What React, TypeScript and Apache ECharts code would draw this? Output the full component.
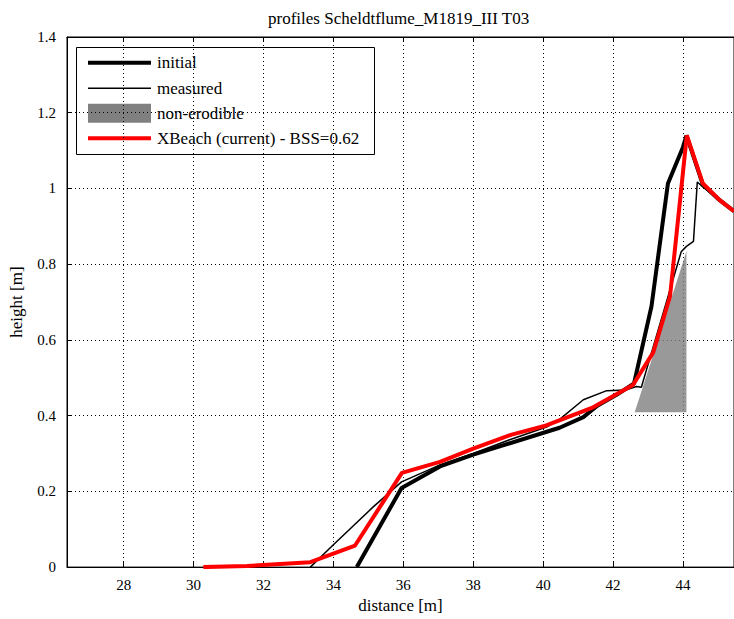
import React, { useEffect, useRef } from "react";
import * as echarts from "echarts";

const titleText = "profiles Scheldtflume_M1819_III T03";
const xName = "distance [m]";
const yName = "height [m]";
const xMin = 26.38;
const xMax = 45.46;
const xTickValues = [28, 30, 32, 34, 36, 38, 40, 42, 44];

const initialX = [34.67, 35.95, 37.05, 38.0, 40.47, 41.15, 41.55, 42.1, 42.6, 43.1, 43.57, 44.0, 44.1, 44.57, 45.05, 45.46];
const initialY = [0, 0.209, 0.266, 0.297, 0.368, 0.396, 0.426, 0.455, 0.485, 0.689, 1.013, 1.109, 1.14, 1.01, 0.969, 0.94];

const measuredX = [33.34, 34.0, 35.14, 35.95, 37.05, 38.0, 39.0, 40.1, 40.48, 41.15, 41.82, 42.38, 42.67, 42.81, 43.95, 44.1, 44.3, 44.41, 44.57, 45.05, 45.46];
const measuredY = [0, 0.059, 0.159, 0.225, 0.27, 0.3, 0.335, 0.37, 0.391, 0.442, 0.466, 0.468, 0.477, 0.475, 0.833, 0.847, 0.86, 1.017, 1.004, 0.97, 0.94];

const xbeachX = [30.28, 31.53, 33.34, 34.62, 35.96, 37.05, 38.0, 39.1, 40.09, 41.43, 42.57, 43.15, 43.63, 44.11, 44.57, 45.05, 45.46];
const xbeachY = [0, 0.003, 0.013, 0.057, 0.249, 0.278, 0.313, 0.35, 0.374, 0.422, 0.481, 0.567, 0.715, 1.14, 1.013, 0.969, 0.94];

const nonErodibleX = [42.62, 44.1, 44.1];
const nonErodibleY = [0.409, 0.834, 0.409];

const legendLabels = ["initial", "measured", "non-erodible", "XBeach (current) - BSS=0.62"];

const FONT = "'Liberation Serif', 'Times New Roman', serif";

const pairs = (xs: number[], ys: number[]) => xs.map((x, i) => [x, ys[i]]);

export default function App() {
  const ref = useRef<HTMLDivElement>(null);
  useEffect(() => {
    if (!ref.current) return;
    const chart = echarts.init(ref.current, undefined, { renderer: "svg" });
    const legendRowsY = [62.7, 88.3, 113.3, 138.3];
    const option: any = {
      animation: false,
      backgroundColor: "#fff",
      title: {
        text: titleText,
        left: 263,
        top: 5,
        textStyle: { fontFamily: FONT, fontSize: 17, fontWeight: "normal", color: "#000" },
      },
      grid: { left: 66, right: -1, top: 37, bottom: 50, show: true, borderColor: "#000", borderWidth: 1 },
      xAxis: [
        {
          type: "value",
          min: xMin,
          max: xMax,
          name: xName,
          nameLocation: "middle",
          nameGap: 26,
          nameTextStyle: { fontFamily: FONT, fontSize: 17, color: "#000" },
          axisLine: { show: true, onZero: false, lineStyle: { color: "#000", width: 1 } },
          axisTick: { show: true, inside: true, length: 5, customValues: xTickValues, lineStyle: { color: "#000" } },
          axisLabel: { customValues: xTickValues, fontFamily: FONT, fontSize: 15, color: "#000", margin: 10 },
          splitLine: { show: true, lineStyle: { color: "#000", type: [1, 3], width: 1 } },
        },
        {
          type: "value",
          position: "top",
          min: xMin,
          max: xMax,
          axisLine: { show: true, onZero: false, lineStyle: { color: "#000", width: 1 } },
          axisTick: { show: true, inside: true, length: 5, customValues: xTickValues, lineStyle: { color: "#000" } },
          axisLabel: { show: false },
          splitLine: { show: false },
        },
      ],
      yAxis: {
        type: "value",
        min: 0,
        max: 1.4,
        interval: 0.2,
        name: yName,
        nameLocation: "middle",
        nameGap: 42,
        nameTextStyle: { fontFamily: FONT, fontSize: 17, color: "#000" },
        axisLine: { show: true, onZero: false, lineStyle: { color: "#000", width: 1 } },
        axisTick: { show: true, inside: true, length: 5, lineStyle: { color: "#000" } },
        axisLabel: { fontFamily: FONT, fontSize: 15, color: "#000", margin: 11 },
        splitLine: { show: true, lineStyle: { color: "#000", type: [1, 3], width: 1 } },
      },
      series: [
        {
          name: legendLabels[2],
          type: "custom",
          clip: true,
          z: 1,
          data: [[nonErodibleX[0], nonErodibleY[0]]],
          renderItem: (_params: any, api: any) => {
            const pts = nonErodibleX.map((x, i) => api.coord([x, nonErodibleY[i]]));
            return {
              type: "polygon",
              shape: { points: pts },
              style: { fill: "#808080", opacity: 0.8, stroke: "none" },
            };
          },
        },
        {
          name: legendLabels[0],
          type: "line",
          data: pairs(initialX, initialY),
          showSymbol: false,
          symbol: "none",
          clip: true,
          z: 2,
          lineStyle: { color: "#000", width: 4 },
        },
        {
          name: legendLabels[1],
          type: "line",
          data: pairs(measuredX, measuredY),
          showSymbol: false,
          symbol: "none",
          clip: true,
          z: 3,
          lineStyle: { color: "#000", width: 1.5 },
        },
        {
          name: legendLabels[3],
          type: "line",
          data: pairs(xbeachX, xbeachY),
          showSymbol: false,
          symbol: "none",
          clip: true,
          z: 4,
          lineStyle: { color: "#ff0000", width: 4 },
        },
      ],
      graphic: [
        {
          type: "group",
          z: 100,
          children: [
            {
              type: "rect",
              shape: { x: 76.5, y: 47.5, width: 298, height: 107 },
              style: { fill: "#fff", stroke: "#000", lineWidth: 1 },
            },
            {
              type: "line",
              shape: { x1: 88, y1: legendRowsY[0], x2: 151, y2: legendRowsY[0] },
              style: { stroke: "#000", lineWidth: 4 },
            },
            {
              type: "line",
              shape: { x1: 88, y1: legendRowsY[1], x2: 151, y2: legendRowsY[1] },
              style: { stroke: "#000", lineWidth: 1.5 },
            },
            {
              type: "rect",
              shape: { x: 88, y: legendRowsY[2] - 9.5, width: 63, height: 19 },
              style: { fill: "#808080" },
            },
            {
              type: "line",
              shape: { x1: 88, y1: legendRowsY[3], x2: 151, y2: legendRowsY[3] },
              style: { stroke: "#ff0000", lineWidth: 4 },
            },
            ...legendLabels.map((t, i) => ({
              type: "text",
              x: 157,
              y: legendRowsY[i],
              style: {
                text: t,
                fontFamily: FONT,
                fontSize: 17,
                fill: "#000",
                textVerticalAlign: "middle",
                verticalAlign: "middle",
              },
            })),
          ],
        },
      ],
    };
    chart.setOption(option);
    return () => chart.dispose();
  }, []);
  return (
    <div
      ref={ref}
      style={{ position: "fixed", left: 0, top: 0, width: 734, height: 619, background: "#fff" }}
    />
  );
}
